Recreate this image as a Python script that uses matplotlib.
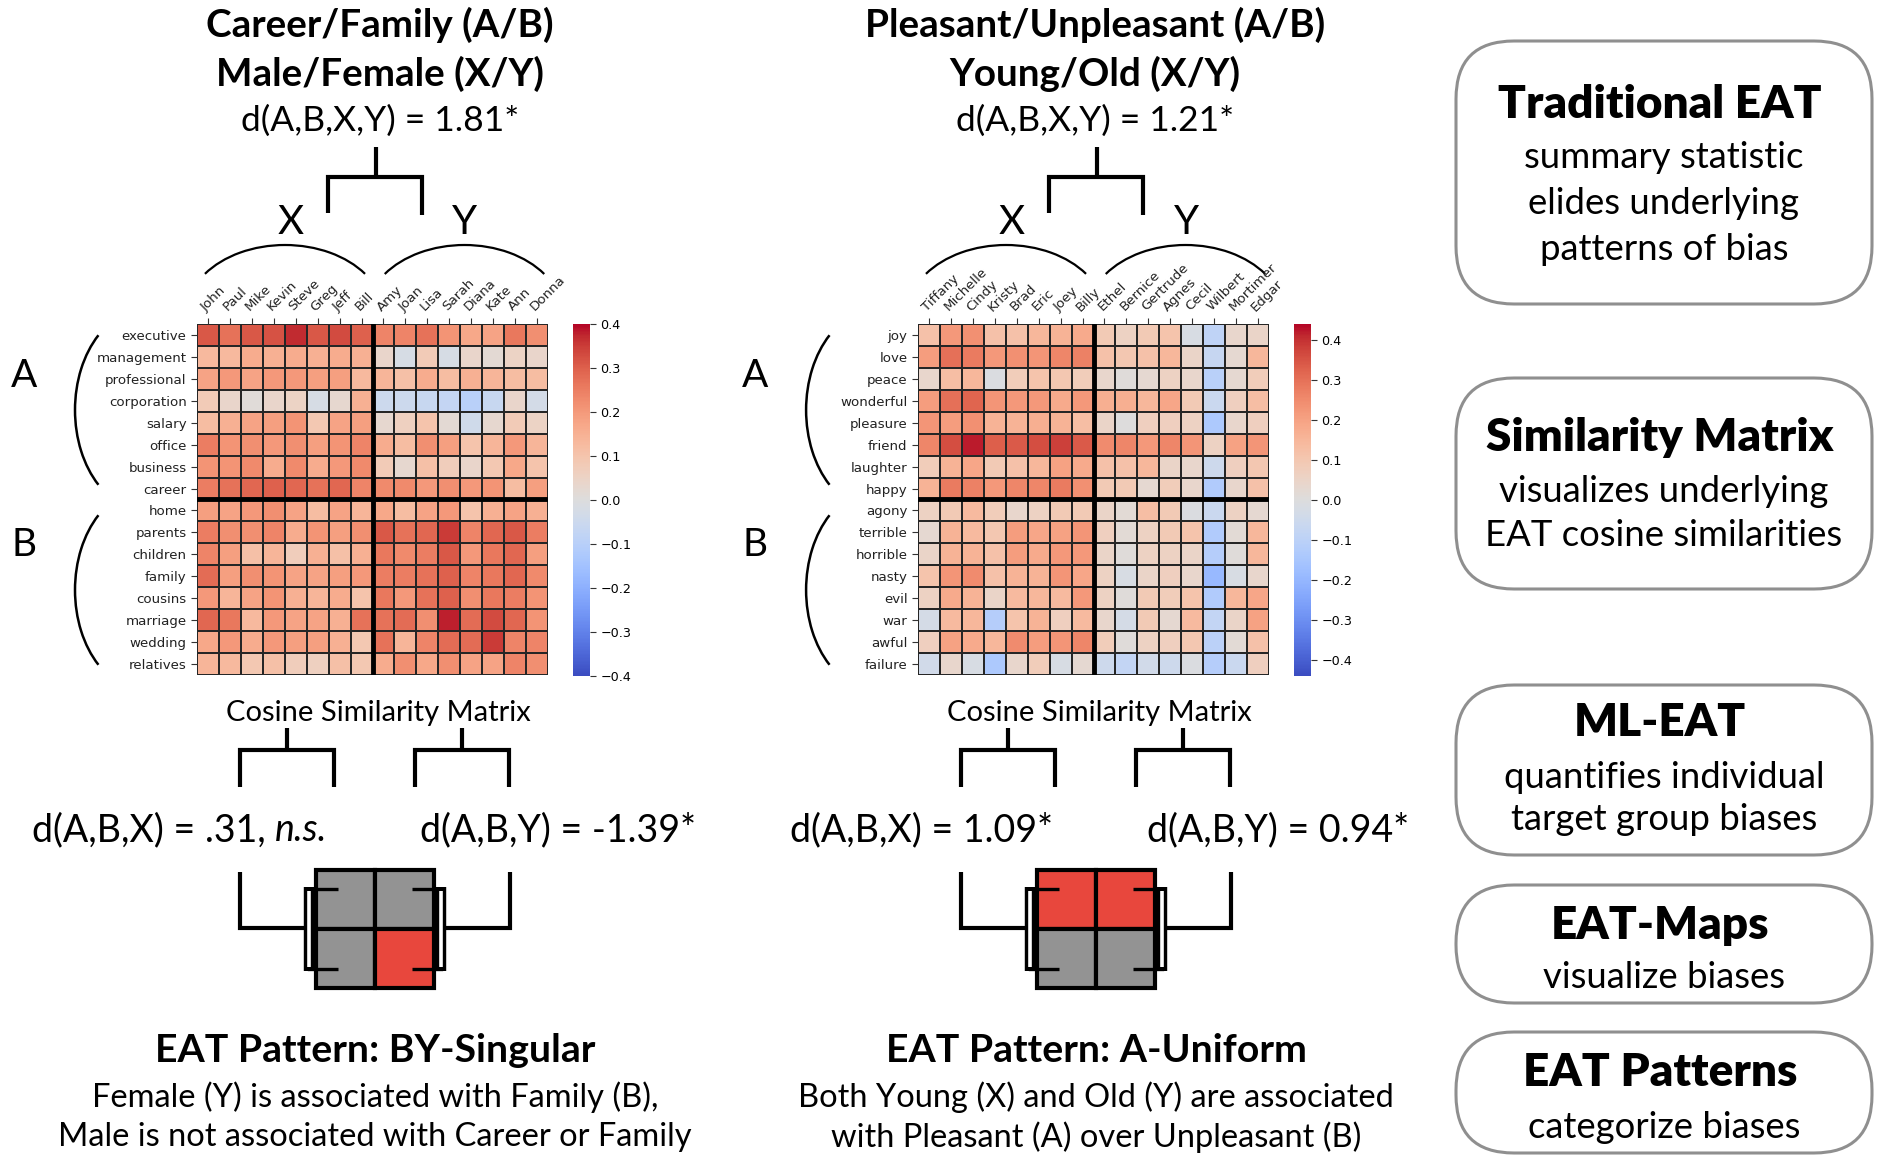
import numpy as np
import matplotlib
matplotlib.use('Agg')
import matplotlib.pyplot as plt
from matplotlib import font_manager
from matplotlib.patches import Arc, FancyBboxPatch, Rectangle

# ---- data ----
cf_rows = ['executive', 'management', 'professional', 'corporation', 'salary', 'office',
           'business', 'career', 'home', 'parents', 'children', 'family', 'cousins',
           'marriage', 'wedding', 'relatives']
cf_cols = ['John', 'Paul', 'Mike', 'Kevin', 'Steve', 'Greg', 'Jeff', 'Bill',
           'Amy', 'Joan', 'Lisa', 'Sarah', 'Diana', 'Kate', 'Ann', 'Donna']
cf_vals = np.array([
    [0.31, 0.27, 0.31, 0.32, 0.37, 0.31, 0.33, 0.30, 0.24, 0.24, 0.27, 0.21, 0.17, 0.18, 0.26, 0.22],
    [0.13, 0.13, 0.16, 0.15, 0.16, 0.15, 0.16, 0.15, 0.04, -0.02, 0.08, -0.02, 0.04, 0.02, 0.05, 0.04],
    [0.18, 0.20, 0.18, 0.20, 0.20, 0.19, 0.19, 0.13, 0.14, 0.11, 0.16, 0.12, 0.15, 0.14, 0.12, 0.12],
    [0.08, 0.04, 0.01, 0.04, 0.05, -0.02, 0.03, 0.15, -0.05, -0.05, -0.06, -0.07, -0.10, -0.06, 0.04, -0.03],
    [0.12, 0.15, 0.18, 0.19, 0.21, 0.09, 0.18, 0.19, 0.03, 0.06, 0.10, 0.02, -0.04, 0.03, 0.08, 0.05],
    [0.25, 0.21, 0.22, 0.20, 0.22, 0.19, 0.21, 0.24, 0.16, 0.12, 0.22, 0.19, 0.10, 0.14, 0.20, 0.14],
    [0.21, 0.21, 0.23, 0.16, 0.23, 0.16, 0.20, 0.23, 0.08, 0.03, 0.11, 0.07, 0.04, 0.09, 0.17, 0.10],
    [0.25, 0.27, 0.29, 0.30, 0.29, 0.27, 0.29, 0.24, 0.23, 0.23, 0.20, 0.22, 0.20, 0.21, 0.12, 0.19],
    [0.19, 0.18, 0.20, 0.22, 0.18, 0.12, 0.18, 0.14, 0.17, 0.12, 0.18, 0.20, 0.10, 0.15, 0.18, 0.15],
    [0.25, 0.22, 0.22, 0.24, 0.16, 0.21, 0.19, 0.22, 0.31, 0.27, 0.29, 0.35, 0.24, 0.29, 0.31, 0.25],
    [0.24, 0.19, 0.11, 0.14, 0.07, 0.15, 0.11, 0.15, 0.26, 0.23, 0.25, 0.31, 0.20, 0.26, 0.29, 0.19],
    [0.28, 0.19, 0.22, 0.21, 0.18, 0.18, 0.19, 0.20, 0.25, 0.25, 0.27, 0.30, 0.24, 0.26, 0.29, 0.23],
    [0.20, 0.14, 0.18, 0.21, 0.15, 0.14, 0.16, 0.10, 0.26, 0.20, 0.27, 0.30, 0.22, 0.26, 0.25, 0.21],
    [0.29, 0.26, 0.13, 0.20, 0.18, 0.18, 0.15, 0.27, 0.27, 0.28, 0.22, 0.38, 0.28, 0.33, 0.29, 0.21],
    [0.17, 0.20, 0.16, 0.20, 0.19, 0.19, 0.15, 0.09, 0.27, 0.14, 0.24, 0.28, 0.28, 0.35, 0.24, 0.24],
    [0.14, 0.13, 0.09, 0.11, 0.07, 0.06, 0.11, 0.09, 0.16, 0.22, 0.17, 0.22, 0.18, 0.18, 0.24, 0.22],
])

pu_rows = ['joy', 'love', 'peace', 'wonderful', 'pleasure', 'friend', 'laughter', 'happy',
           'agony', 'terrible', 'horrible', 'nasty', 'evil', 'war', 'awful', 'failure']
pu_cols = ['Tiffany', 'Michelle', 'Cindy', 'Kristy', 'Brad', 'Eric', 'Joey', 'Billy',
           'Ethel', 'Bernice', 'Gertrude', 'Agnes', 'Cecil', 'Wilbert', 'Mortimer', 'Edgar']
pu_vals = np.array([
    [0.12, 0.22, 0.24, 0.12, 0.12, 0.15, 0.16, 0.18, 0.09, 0.06, 0.09, 0.11, -0.02, -0.09, 0.04, 0.05],
    [0.21, 0.30, 0.28, 0.22, 0.24, 0.23, 0.26, 0.27, 0.12, 0.10, 0.12, 0.15, 0.05, -0.07, 0.03, 0.15],
    [0.04, 0.13, 0.15, -0.01, 0.08, 0.11, 0.10, 0.08, 0.04, 0.01, 0.03, 0.06, 0.04, -0.11, 0.03, 0.08],
    [0.21, 0.30, 0.32, 0.23, 0.22, 0.22, 0.18, 0.22, 0.17, 0.17, 0.15, 0.19, 0.09, -0.06, 0.07, 0.13],
    [0.23, 0.21, 0.24, 0.16, 0.16, 0.17, 0.16, 0.13, 0.05, 0.00, 0.07, 0.07, 0.06, -0.14, 0.04, 0.07],
    [0.26, 0.36, 0.42, 0.33, 0.34, 0.36, 0.38, 0.34, 0.25, 0.26, 0.22, 0.26, 0.23, 0.06, 0.20, 0.23],
    [0.08, 0.16, 0.19, 0.09, 0.12, 0.15, 0.20, 0.18, 0.12, 0.12, 0.15, 0.05, 0.04, -0.05, 0.07, 0.10],
    [0.16, 0.28, 0.27, 0.22, 0.26, 0.26, 0.28, 0.24, 0.09, 0.09, 0.03, 0.08, 0.04, -0.13, 0.04, 0.12],
    [0.06, 0.09, 0.14, 0.08, 0.04, 0.06, 0.09, 0.09, 0.05, 0.02, 0.13, 0.09, -0.01, -0.06, 0.06, 0.03],
    [0.03, 0.16, 0.14, 0.10, 0.21, 0.19, 0.20, 0.23, 0.07, 0.02, 0.06, 0.09, 0.11, -0.13, 0.02, 0.15],
    [0.05, 0.16, 0.16, 0.12, 0.21, 0.18, 0.22, 0.22, 0.05, 0.01, 0.06, 0.06, 0.05, -0.12, 0.01, 0.15],
    [0.11, 0.23, 0.25, 0.12, 0.16, 0.16, 0.23, 0.19, 0.06, -0.02, 0.05, 0.07, 0.04, -0.19, -0.02, 0.04],
    [0.06, 0.18, 0.16, 0.05, 0.14, 0.15, 0.14, 0.22, 0.06, 0.01, 0.09, 0.08, 0.11, -0.13, 0.15, 0.19],
    [-0.03, 0.14, 0.15, -0.12, 0.11, 0.16, 0.07, 0.14, 0.04, -0.03, 0.09, 0.03, 0.14, -0.08, 0.05, 0.20],
    [0.07, 0.20, 0.18, 0.15, 0.25, 0.21, 0.23, 0.26, 0.08, 0.01, 0.06, 0.07, 0.10, -0.10, 0.02, 0.12],
    [-0.04, 0.04, -0.02, -0.14, 0.04, 0.08, -0.02, 0.03, -0.05, -0.08, -0.04, -0.05, -0.01, -0.12, -0.06, 0.07],
])

cb_ticks = [0.4, 0.3, 0.2, 0.1, 0.0, -0.1, -0.2, -0.3, -0.4]

titles = [('Career/Family (A/B)', 'Male/Female (X/Y)'),
          ('Pleasant/Unpleasant (A/B)', 'Young/Old (X/Y)')]
d_all = ['d(A,B,X,Y) = 1.81*', 'd(A,B,X,Y) = 1.21*']
d_right = ['d(A,B,Y) = -1.39*', 'd(A,B,Y) = 0.94*']
patterns = ['EAT Pattern: BY-Singular', 'EAT Pattern: A-Uniform']
descs = [('Female (Y) is associated with Family (B),', 'Male is not associated with Career or Family'),
         ('Both Young (X) and Old (Y) are associated', 'with Pleasant (A) over Unpleasant (B)')]
# which of the 4 cells (AX, AY, BX, BY) are significant
sig = [(False, False, False, True), (True, True, False, False)]

boxes = [('Traditional EAT', ['summary statistic', 'elides underlying', 'patterns of bias']),
         ('Similarity Matrix', ['visualizes underlying', 'EAT cosine similarities']),
         ('ML-EAT', ['quantifies individual', 'target group biases']),
         ('EAT-Maps', ['visualize biases']),
         ('EAT Patterns', ['categorize biases'])]

# ---- fonts ----
names = {f.name for f in font_manager.fontManager.ttflist}


def pick(*cands):
    for c in cands:
        if c in names:
            return c
    return 'DejaVu Sans'


FONT = pick('Lato', 'Open Sans')

W, H = 1886, 1172
fig = plt.figure(figsize=(W / 100, H / 100), dpi=100)
ax = fig.add_axes([0, 0, 1, 1])
ax.set_xlim(0, W)
ax.set_ylim(H, 0)
ax.axis('off')


def txt(x, y, s, size, weight='normal', **kw):
    return ax.text(x, y, s, ha=kw.pop('ha', 'center'), va='center', fontsize=size,
                   fontweight=weight, family=FONT, **kw)


def line(xs, ys, lw=3.0, color='black', z=3):
    ax.plot(xs, ys, color=color, lw=lw, solid_joinstyle='miter', solid_capstyle='butt', zorder=z)


def top_arc(x0, x1, ypk, yend, b=70, lw=1.6):
    cx = (x0 + x1) / 2
    cy = ypk + b
    t0 = np.degrees(np.arcsin((cy - yend) / b))
    a = (x1 - x0) / 2 / np.cos(np.radians(t0))
    ax.add_patch(Arc((cx, cy), 2 * a, 2 * b, theta1=180 + t0, theta2=360 - t0, lw=lw, color='black'))


def left_arc(xe, y0, y1, xl, a=70, lw=1.8):
    cy = (y0 + y1) / 2
    cx = xl + a
    d = np.degrees(np.arccos((cx - xe) / a))
    b = (y1 - y0) / 2 / np.sin(np.radians(d))
    ax.add_patch(Arc((cx, cy), 2 * a, 2 * b, theta1=180 - d, theta2=180 + d, lw=lw, color='black'))


def heat(vals, rows, cols, x0, vlim):
    hax = fig.add_axes([x0 / W, 1 - 675 / H, 351 / W, 351 / H])
    m = hax.pcolormesh(vals, cmap='coolwarm', vmin=-vlim, vmax=vlim,
                       edgecolors='#262626', linewidth=1.3)
    hax.set_xlim(0, 16)
    hax.set_ylim(16, 0)
    hax.axhline(8, color='black', lw=3.5)
    hax.axvline(8, color='black', lw=3.5)
    hax.xaxis.tick_top()
    hax.set_xticks(np.arange(16) + 0.5)
    hax.set_xticklabels(cols, rotation=45, ha='left', rotation_mode='anchor',
                        fontsize=9.6, family='DejaVu Sans', color='#222222')
    hax.set_yticks(np.arange(16) + 0.5)
    hax.set_yticklabels(rows, fontsize=9.6, family='DejaVu Sans', color='#222222')
    hax.tick_params(length=4, width=0.8, color='#333333')
    for s in hax.spines.values():
        s.set_visible(False)
    cax = fig.add_axes([(x0 + 376) / W, 1 - 676 / H, 17 / W, 352 / H])
    cb = fig.colorbar(m, cax=cax, ticks=cb_ticks)
    cb.outline.set_visible(False)
    cb.ax.tick_params(labelsize=9.2, length=4, width=0.8, color='#333333')
    for t in cb.ax.get_yticklabels():
        t.set_family('DejaVu Sans')


tcx = [380, 1095]
heat_x = [197, 918]
vlims = [0.4, 0.44]
datas = [(cf_vals, cf_rows, cf_cols), (pu_vals, pu_rows, pu_cols)]

for p in range(2):
    dx = [0, 721][p]
    cx = tcx[p]
    # header
    txt(cx, 25, titles[p][0], 27.8, 'bold')
    txt(cx, 74, titles[p][1], 27.8, 'bold')
    txt(cx, 121, d_all[p], 25.5)
    # bracket joining X and Y
    line([376 + dx, 376 + dx], [147, 177])
    line([328 + dx, 328 + dx, 422 + dx, 422 + dx], [213, 177, 177, 215])
    txt(291 + dx, 222, 'X', 29)
    txt(465 + dx, 222, 'Y', 29)
    top_arc(197 + dx, 373 + dx, 245, 283)
    top_arc(377 + dx, 552 + dx, 245, 283)
    # A / B braces
    ax_x = 24 + dx * 1.014
    txt(ax_x, 376, 'A', 28)
    txt(ax_x, 545, 'B', 28)
    left_arc(108 + dx * 1.014, 325, 495, 75 + dx * 1.014)
    left_arc(108 + dx * 1.014, 505, 675, 75 + dx * 1.014)
    # heatmap
    vals, rows, cols = datas[p]
    heat(vals, rows, cols, heat_x[p], vlims[p])
    # lower part
    txt(378 + dx, 713, 'Cosine Similarity Matrix', 21)
    for bx in (287, 462):
        line([bx + dx, bx + dx], [728, 750])
        line([bx - 47 + dx, bx - 47 + dx, bx + 47 + dx, bx + 47 + dx], [787, 750, 750, 787])
    if p == 0:
        t1 = txt(32, 830, 'd(A,B,X) = .31, ', 27, ha='left')
        ax.annotate('n.s.', xy=(1, 0.5), xycoords=t1, ha='left', va='center',
                    fontsize=27, family=FONT, style='italic')
    else:
        txt(921, 830, 'd(A,B,X) = 1.09*', 27)
    txt([558, 1278][p], 830, d_right[p], 27)
    # 2x2 pattern squares
    sq = 59
    sx0, sy0 = 316 + dx, 870
    for i, s in enumerate(sig[p]):
        r, c = divmod(i, 2)
        ax.add_patch(Rectangle((sx0 + c * sq, sy0 + r * sq), sq, sq,
                               facecolor='#e8473d' if s else '#939393',
                               edgecolor='black', lw=3, zorder=2))
    # connectors and hollow brackets
    line([240 + dx, 240 + dx, 306 + dx], [872, 928, 928])
    line([510 + dx, 510 + dx, 445 + dx], [872, 928, 928])
    for xo, xa in ((309 + dx, 338 + dx), (441 + dx, 412 + dx)):
        line([xa, xo, xo, xa], [889, 889, 969, 969], lw=2.4, z=4)
        line([xo, xo], [887, 971], lw=7.5, z=4)
        line([xo, xo], [891, 967], lw=2.6, color='white', z=5)
    # pattern text
    txt(375 + dx, 1051, patterns[p], 28.3, 'bold')
    txt(375 + dx, 1097, descs[p][0], 23.5)
    txt(375 + dx, 1137, descs[p][1], 23.5)

# right-hand boxes
box_y = [(41, 304), (378, 589), (685, 855), (885, 1003), (1032, 1153)]
title_y = [104, 437, 722, 925, 1073]
body_y = [[158, 204, 250], [491, 536], [777, 820], [977], [1127]]
for (bt, body), (y0, y1), ty, bys in zip(boxes, box_y, title_y, body_y):
    ax.add_patch(FancyBboxPatch((1456, y0), 416, y1 - y0,
                                boxstyle='round,pad=0,rounding_size=58',
                                facecolor='white', edgecolor='#8f8f8f', lw=2.2))
    txt(1660, ty, bt, 33, 'heavy')
    for ln, yy in zip(body, bys):
        txt(1664, yy, ln, 26.3)

fig.savefig('out.png', dpi=100)
